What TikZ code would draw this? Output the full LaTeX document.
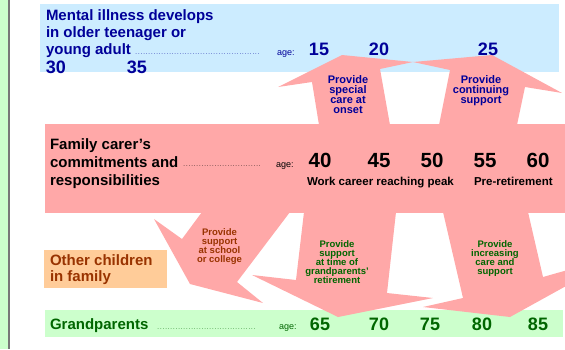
\documentclass[tikz,border=0pt]{standalone}
\usepackage{fontspec}
\setmainfont{Liberation Sans}
\definecolor{bluebg}{RGB}{204,236,255}
\definecolor{pinkc}{RGB}{255,168,168}
\definecolor{greenbg}{RGB}{204,255,204}
\definecolor{orangebg}{RGB}{255,204,153}
\definecolor{navy}{RGB}{0,0,153}
\definecolor{dkgreen}{RGB}{0,102,0}
\definecolor{brownc}{RGB}{153,51,0}
\definecolor{stripline}{RGB}{120,120,120}
\newcommand\dotrow[1]{\hbox to #1{\fontsize{6}{6}\selectfont\mdseries\leaders\hbox to 2.6pt{\hss.\hss}\hfill}}
\begin{document}
\begin{tikzpicture}[x=1pt,y=-1pt,
  txt/.style={inner sep=0pt, outer sep=0pt, anchor=base west},
  ctxt/.style={inner sep=0pt, outer sep=0pt, anchor=base, align=center},
  headtxt/.style={txt, align=left, font=\fontsize{15}{17}\selectfont\bfseries},
  agelbl/.style={txt, font=\fontsize{9}{9}\selectfont},
  numsmall/.style={ctxt, font=\fontsize{18}{18}\selectfont\bfseries},
  numbig/.style={ctxt, font=\fontsize{20.5}{20}\selectfont\bfseries},
  arrbig/.style={ctxt, font=\fontsize{11}{10}\selectfont\bfseries},
  arrsmall/.style={ctxt, font=\fontsize{9.5}{9}\selectfont\bfseries},
  subtxt/.style={txt, font=\fontsize{11.5}{12}\selectfont\bfseries},
]
\useasboundingbox (0,0) rectangle (565,349);
\clip (0,0) rectangle (565,349);
% left strip
\fill[greenbg] (0,0) rectangle (8,349);
\fill[stripline] (8,0) rectangle (10,349);
% boxes
\fill[bluebg] (40,4) rectangle (559,72);
\fill[greenbg] (45,310) rectangle (563,337);
\fill[orangebg] (44,250) rectangle (167,288);
% pink band and block arrows
\fill[pinkc] (45,124) rectangle (570,213);
\fill[pinkc] (319,125) -- (312,82) -- (278,87) -- (342,55) -- (413,62) -- (380,69) -- (390,125) -- cycle;
\fill[pinkc] (439,125) -- (450,70) -- (413,62) -- (492,55) -- (562,93) -- (525,87) -- (517,125) -- cycle;
\fill[pinkc] (202,212) -- (182,239) -- (154,219) -- (190,284) -- (263,303) -- (237,282) -- (290,212) -- cycle;
\fill[pinkc] (304,212) -- (296,280) -- (252,275) -- (338,317) -- (433,298) -- (387,293) -- (396,212) -- cycle;
\fill[pinkc] (443,212) -- (463,298) -- (423,307) -- (510,317) -- (624,254) -- (543,277) -- (528,212) -- cycle;
% blue box text (base anchor = last line)
\node[headtxt, text=navy] (mental) at (46,54.5) {Mental illness develops\\in older teenager or\\young adult};
\node[txt, text=navy] (dotsA) at (135,54.5) {\dotrow{125pt}};
\node[agelbl, text=navy] (ageA) at (277,55) {age:};
\node[numsmall, text=navy] (a15) at (319,55) {15};
\node[numsmall, text=navy] (a20) at (379,55) {20};
\node[numsmall, text=navy] (a25) at (488,55) {25};
\node[numsmall, text=navy] (a30) at (56,73) {30};
\node[numsmall, text=navy] (a35) at (137,73) {35};
\node[arrbig, text=navy] (onset) at (348,113) {Provide\\special\\care at\\onset};
\node[arrbig, text=navy] (contin) at (481,103) {Provide\\continuing\\support};
% pink band text
\node[headtxt, font=\fontsize{15}{18}\selectfont\bfseries] (carer) at (50,185) {Family carer’s\\commitments and\\responsibilities};
\node[txt] (dotsB) at (183,166.5) {\dotrow{80pt}};
\node[agelbl] (ageB) at (276,167) {age:};
\node[numbig] (b40) at (320,167) {40};
\node[numbig] (b45) at (379,167) {45};
\node[numbig] (b50) at (432,167) {50};
\node[numbig] (b55) at (485,167) {55};
\node[numbig] (b60) at (538,167) {60};
\node[subtxt] (peak) at (307,185) {Work career reaching peak};
\node[subtxt] (preret) at (474,185) {Pre-retirement};
% down arrow texts
\node[arrsmall, text=brownc] (school) at (219.5,262) {Provide\\support\\at school\\or college};
\node[arrsmall, text=dkgreen] (retire) at (337,283.7) {Provide\\support\\at time of\\grandparents’\\retirement};
\node[arrsmall, text=dkgreen] (incr) at (495,274.7) {Provide\\increasing\\care and\\support};
% other children
\node[headtxt, font=\fontsize{15}{16}\selectfont\bfseries, text=brownc] (others) at (50,281.5) {Other children\\in family};
% grandparents
\node[headtxt, text=dkgreen] (grand) at (50,329) {Grandparents};
\node[txt, text=dkgreen] (dotsC) at (157,329) {\dotrow{101pt}};
\node[agelbl, text=dkgreen] (ageC) at (279,329) {age:};
\node[numsmall, text=dkgreen] (c65) at (320,330) {65};
\node[numsmall, text=dkgreen] (c70) at (379,330) {70};
\node[numsmall, text=dkgreen] (c75) at (430,330) {75};
\node[numsmall, text=dkgreen] (c80) at (482,330) {80};
\node[numsmall, text=dkgreen] (c85) at (538,330) {85};
\end{tikzpicture}
\end{document}
